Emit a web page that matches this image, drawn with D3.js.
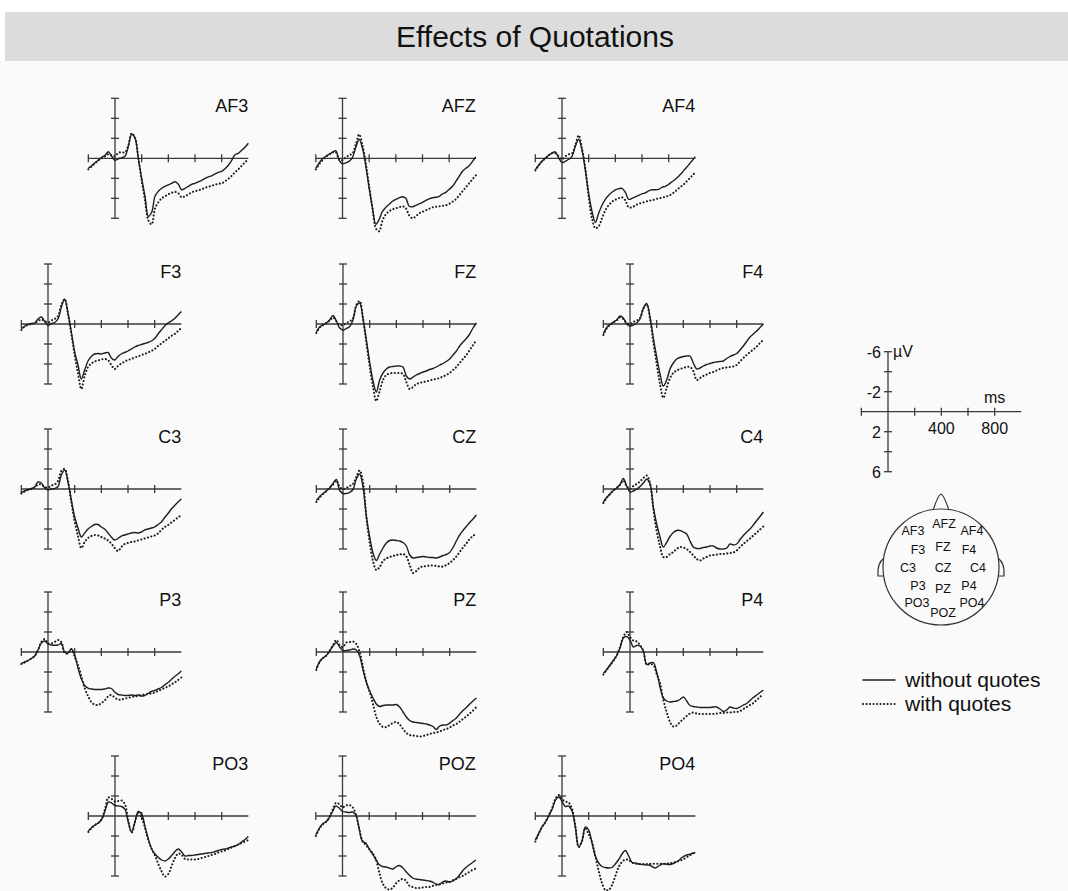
<!DOCTYPE html>
<html>
<head>
<meta charset="utf-8">
<script src="https://cdn.jsdelivr.net/npm/d3@7"></script>
<style>
  html, body { margin: 0; padding: 0; background: #ffffff; }
  svg { display: block; font-family: "Liberation Sans", Arial, Helvetica, sans-serif; }
</style>
</head>
<body>
<svg id="chart" width="1068" height="891"></svg>
<script>
// Sample times (ms) shared by every waveform
const times = d3.range(-200, 1001, 25);

// Grand-average amplitudes (µV) per electrode; negative is plotted upward
const AF3_without = [1.0,0.75,0.45,0.2,-0.1,-0.3,-0.65,-0.2,0.2,0.05,-0.05,-0.2,-1.2,-2.4,-2.0,0.0,2.0,3.8,5.8,5.4,3.8,3.3,3.0,2.8,2.65,2.5,2.35,2.6,3.15,3.0,2.8,2.6,2.5,2.35,2.2,2.0,1.85,1.75,1.55,1.4,1.3,1.05,0.7,0.2,-0.35,-0.5,-0.8,-1.1,-1.5];
const AF3_with = [1.1,0.8,0.5,0.2,0.0,-0.2,-0.4,-0.3,-0.2,-0.55,-0.6,-0.6,-1.3,-2.5,-2.1,0.0,2.2,4.2,6.2,6.6,5.0,4.4,4.0,3.8,3.6,3.45,3.35,3.5,3.9,3.8,3.6,3.4,3.3,3.2,3.1,2.95,2.85,2.75,2.65,2.55,2.5,2.3,2.05,1.75,1.4,1.1,0.75,0.4,0.1];

const AFZ_without = [1.0,0.45,0.05,-0.2,-0.4,-0.6,-0.75,0.2,0.55,0.45,0.3,-0.1,-1.1,-1.9,-1.0,0.8,3.0,5.0,6.6,6.1,5.3,4.9,4.6,4.3,4.1,3.95,3.85,4.0,4.8,4.85,4.7,4.55,4.4,4.2,4.05,3.95,3.9,3.8,3.55,3.4,3.1,2.8,2.3,1.8,1.3,1.0,0.75,0.3,-0.15];
const AFZ_with = [1.1,0.6,0.2,-0.15,-0.4,-0.6,-0.6,0.1,0.2,-0.1,-0.3,-0.5,-1.4,-2.4,-1.3,0.5,2.8,5.0,7.0,7.3,6.2,5.6,5.3,5.1,5.0,4.9,4.8,5.0,5.7,6.0,5.8,5.5,5.35,5.2,5.05,4.9,4.85,4.8,4.75,4.7,4.55,4.35,4.1,3.7,3.3,2.9,2.5,2.1,1.7];

const AF4_without = [1.15,0.7,0.3,0.0,-0.3,-0.5,-0.65,-0.05,0.43,0.3,0.1,-0.2,-1.2,-1.9,-0.8,1.2,3.5,5.3,6.4,5.5,4.7,4.1,3.7,3.4,3.15,3.05,3.0,3.4,4.1,4.0,3.85,3.7,3.55,3.45,3.25,3.15,3.15,3.1,2.9,2.8,2.6,2.35,2.1,1.8,1.45,1.05,0.65,0.25,-0.15];
const AF4_with = [1.2,0.7,0.3,0.0,-0.3,-0.55,-0.5,-0.2,0.1,-0.2,-0.4,-0.5,-1.3,-2.3,-1.0,1.0,3.8,6.0,7.0,6.8,6.0,5.2,4.7,4.35,4.15,4.0,3.9,4.2,4.9,4.9,4.7,4.55,4.45,4.35,4.25,4.2,4.1,4.0,3.95,3.85,3.75,3.55,3.3,3.0,2.75,2.45,2.1,1.75,1.4];

const F3_without = [0.5,0.2,0.05,-0.05,-0.1,-0.5,-0.7,-0.25,0.15,-0.05,-0.15,-0.5,-1.7,-2.5,-1.1,0.8,2.8,4.1,5.5,4.6,3.7,3.25,3.0,2.95,3.0,2.9,2.85,3.4,3.6,3.25,3.0,2.85,2.7,2.5,2.3,2.15,2.05,1.95,1.85,1.7,1.45,1.0,0.6,0.2,-0.1,-0.3,-0.55,-0.9,-1.25];
const F3_with = [0.6,0.25,0.1,0.0,-0.1,-0.3,-0.45,-0.3,-0.15,-0.35,-0.5,-0.8,-1.9,-2.5,-1.0,1.0,3.1,4.9,6.5,5.2,4.3,3.95,3.75,3.65,3.55,3.5,3.6,4.1,4.5,4.2,3.95,3.75,3.6,3.5,3.35,3.25,3.1,3.0,2.85,2.7,2.5,2.2,1.95,1.7,1.45,1.2,1.0,0.7,0.4];

const FZ_without = [0.8,0.3,0.1,-0.1,-0.4,-0.85,-0.3,0.4,0.6,0.45,0.25,-0.4,-1.8,-2.1,-0.5,1.6,3.8,5.7,6.8,5.6,4.9,4.5,4.3,4.25,4.2,4.2,4.3,5.2,5.5,5.3,5.1,4.95,4.8,4.7,4.55,4.45,4.3,4.1,3.95,3.75,3.5,3.1,2.7,2.2,1.8,1.45,1.0,0.4,-0.1];
const FZ_with = [0.9,0.35,0.1,-0.1,-0.35,-0.65,-0.3,0.1,0.1,-0.1,-0.25,-0.6,-1.9,-2.3,-0.6,1.8,4.2,6.3,7.7,6.7,5.6,5.1,4.95,4.9,4.9,4.9,5.0,5.8,6.5,6.3,6.0,5.9,5.8,5.75,5.65,5.55,5.5,5.4,5.25,5.1,4.9,4.6,4.3,3.9,3.5,3.1,2.6,2.1,1.6];

const F4_without = [1.0,0.35,0.05,-0.2,-0.4,-0.8,-0.6,0.0,0.2,0.1,-0.1,-0.5,-1.6,-2.05,-0.7,1.4,3.3,5.0,6.2,5.6,4.5,3.9,3.5,3.35,3.25,3.2,3.2,3.9,4.5,4.4,4.2,4.05,3.95,3.85,3.8,3.75,3.7,3.45,3.25,3.1,2.95,2.6,2.2,1.75,1.3,1.0,0.7,0.35,0.0];
const F4_with = [1.1,0.45,0.1,-0.15,-0.35,-0.65,-0.5,-0.1,0.0,-0.2,-0.35,-0.6,-1.5,-1.95,-0.5,1.8,4.0,6.0,7.4,6.4,5.4,4.9,4.65,4.5,4.4,4.3,4.3,4.7,5.6,5.4,5.2,5.05,4.9,4.8,4.65,4.5,4.4,4.35,4.3,4.25,4.1,3.75,3.4,3.1,2.8,2.55,2.25,1.9,1.6];

const C3_without = [0.35,0.2,0.05,-0.05,-0.2,-0.7,-0.6,-0.1,0.1,0.0,-0.05,-0.25,-1.4,-1.9,-0.7,1.1,2.8,3.9,4.8,4.4,4.0,3.75,3.55,3.55,3.8,4.0,4.4,4.8,5.1,4.95,4.7,4.6,4.5,4.4,4.35,4.4,4.3,4.1,4.0,3.9,3.8,3.55,3.3,2.85,2.45,2.0,1.65,1.3,1.0];
const C3_with = [0.45,0.25,0.1,0.0,-0.15,-0.45,-0.45,-0.2,-0.15,-0.35,-0.45,-0.8,-1.8,-2.0,-0.8,1.3,3.2,4.7,5.9,5.3,4.9,4.7,4.6,4.65,4.8,4.95,5.15,5.45,5.9,6.2,5.8,5.5,5.4,5.3,5.25,5.15,5.05,4.95,4.85,4.75,4.65,4.45,4.1,3.8,3.6,3.35,3.1,2.85,2.6];

const CZ_without = [1.15,0.75,0.45,0.2,-0.1,-0.55,-0.95,0.15,0.45,0.45,0.35,0.05,-1.0,-1.5,-0.2,2.7,4.8,6.4,7.15,6.5,5.9,5.4,5.15,5.1,5.15,5.2,5.35,5.7,6.6,6.9,6.85,6.8,6.75,6.8,6.85,6.85,6.9,6.8,6.65,6.55,6.35,5.85,5.2,4.6,4.15,3.75,3.35,3.0,2.6];
const CZ_with = [1.3,0.85,0.5,0.2,-0.15,-0.45,-0.85,-0.2,0.0,-0.1,-0.3,-0.5,-1.2,-1.85,-0.7,2.8,5.3,7.2,8.1,7.8,7.2,6.95,6.8,6.7,6.6,6.55,6.5,6.75,7.6,8.4,8.2,7.85,7.75,7.7,7.65,7.65,7.7,7.75,7.75,7.6,7.4,7.1,6.75,6.3,5.85,5.45,5.0,4.7,4.4];

const C4_without = [1.3,0.85,0.5,0.15,-0.1,-0.45,-1.05,-0.3,0.3,0.2,0.0,-0.25,-0.6,-1.0,-0.5,1.8,3.5,4.8,5.8,5.35,4.75,4.35,4.15,4.15,4.3,4.5,5.2,5.8,5.95,5.95,5.85,5.8,5.7,5.7,5.9,6.0,6.0,5.9,5.5,5.6,5.5,5.05,4.65,4.3,4.0,3.6,3.15,2.75,2.3];
const C4_with = [1.4,0.9,0.5,0.15,-0.1,-0.4,-0.85,-0.3,0.0,-0.3,-0.5,-0.75,-1.1,-1.35,-0.6,2.0,4.2,5.7,6.8,6.8,6.5,6.3,6.0,5.8,5.85,6.0,6.3,6.65,7.0,7.15,6.95,6.8,6.65,6.6,6.55,6.5,6.5,6.45,6.4,6.35,6.15,5.8,5.5,5.2,4.95,4.65,4.35,4.05,3.75];

const P3_without = [1.15,1.0,0.85,0.65,0.4,-0.2,-0.9,-1.1,-0.8,-0.7,-0.68,-0.7,-0.85,0.0,0.1,-0.3,0.3,1.6,2.7,3.35,3.6,3.7,3.75,3.75,3.75,3.7,3.6,3.65,4.0,4.25,4.3,4.35,4.35,4.3,4.35,4.3,4.4,4.35,4.15,3.95,3.85,3.7,3.55,3.3,3.05,2.75,2.45,2.2,1.9];
const P3_with = [1.2,1.05,0.85,0.65,0.4,-0.2,-1.0,-1.3,-0.85,-0.85,-1.0,-1.2,-1.0,0.1,0.15,-0.3,0.5,1.3,2.4,3.6,4.4,5.0,5.25,5.3,5.1,4.85,4.45,4.3,4.55,4.75,4.75,4.65,4.6,4.5,4.45,4.4,4.3,4.25,4.2,4.15,4.05,3.9,3.75,3.6,3.45,3.25,3.05,2.8,2.55];

const PZ_without = [1.7,0.95,0.6,0.35,-0.1,-0.6,-0.95,-0.5,-0.15,-0.15,-0.2,-0.3,-0.2,0.4,1.8,3.0,3.9,4.6,5.2,5.45,5.35,5.3,5.3,5.3,5.25,5.5,6.0,6.5,6.85,7.0,7.05,7.1,7.15,7.2,7.3,7.45,7.75,7.4,7.3,7.3,7.1,6.85,6.6,6.2,5.85,5.55,5.2,4.9,4.6];
const PZ_with = [1.8,1.0,0.6,0.35,-0.15,-0.7,-1.2,-0.7,-0.5,-0.95,-1.0,-1.05,-0.8,0.0,1.5,3.0,4.0,5.2,6.5,7.2,7.5,7.5,7.3,7.1,7.0,7.25,7.7,8.1,8.3,8.35,8.4,8.45,8.4,8.3,8.2,8.1,8.05,7.95,7.8,7.7,7.55,7.35,7.2,6.95,6.7,6.45,6.15,5.85,5.5];

const P4_without = [2.15,1.75,1.3,0.85,0.35,-0.4,-1.4,-1.55,-1.2,-0.5,-0.65,-0.6,-0.1,1.25,1.1,1.05,2.0,3.5,4.6,4.9,5.0,4.95,4.9,4.75,4.5,4.9,5.35,5.45,5.5,5.55,5.55,5.55,5.55,5.5,5.5,5.7,5.95,5.8,5.5,5.6,5.65,5.5,5.3,5.15,4.85,4.55,4.3,4.05,3.8];
const P4_with = [2.25,1.8,1.35,0.9,0.35,-0.5,-1.5,-2.0,-1.5,-1.15,-1.05,-0.7,-0.1,1.25,1.2,1.3,2.2,3.1,4.8,6.0,7.0,7.45,7.35,7.0,6.7,6.4,6.15,6.05,6.15,6.2,6.2,6.2,6.2,6.2,6.15,6.1,6.1,6.05,6.05,6.0,6.0,5.9,5.7,5.5,5.3,5.1,4.8,4.5,4.2];

const PO3_without = [1.5,1.15,0.9,0.7,0.35,-0.5,-1.4,-1.3,-1.05,-1.0,-0.95,-0.65,0.65,1.65,0.55,-0.45,-0.2,1.05,2.3,3.3,3.8,4.15,4.4,4.5,4.3,3.95,3.55,3.3,3.6,4.0,3.95,3.95,3.9,3.85,3.8,3.75,3.7,3.65,3.55,3.45,3.35,3.3,3.2,3.1,3.0,2.85,2.6,2.35,2.05];
const PO3_with = [1.6,1.2,0.9,0.7,0.3,-0.7,-1.85,-1.7,-1.45,-1.5,-1.55,-1.15,0.5,1.65,0.6,-0.35,0.2,1.2,2.4,3.3,3.95,4.8,5.55,6.05,5.8,5.0,4.2,3.75,3.9,4.3,4.35,4.35,4.35,4.3,4.2,4.1,4.0,3.9,3.8,3.65,3.55,3.45,3.3,3.15,3.0,2.85,2.7,2.55,2.4];

const POZ_without = [1.9,1.25,0.8,0.6,0.2,-0.45,-1.0,-0.8,-0.45,-0.4,-0.35,-0.4,-0.1,1.3,2.55,2.7,3.3,3.8,4.35,4.85,5.05,5.1,5.2,5.3,5.1,4.95,5.15,5.55,5.9,6.2,6.3,6.35,6.4,6.45,6.5,6.6,6.8,6.85,6.6,6.5,6.6,6.5,6.3,5.95,5.5,5.15,4.9,4.65,4.4];
const POZ_with = [2.0,1.3,0.85,0.6,0.15,-0.6,-1.3,-1.2,-0.85,-1.05,-1.1,-0.9,-0.2,1.2,2.5,2.9,3.3,3.7,4.3,5.6,6.7,7.2,7.35,7.2,6.75,6.45,6.3,6.45,6.95,7.1,7.2,7.2,7.15,7.1,7.1,7.0,6.9,6.85,6.75,6.65,6.6,6.45,6.3,6.15,6.0,5.8,5.6,5.4,5.25];

const PO4_without = [2.4,1.75,1.1,0.65,0.0,-0.65,-1.55,-1.9,-1.45,-0.95,-1.0,-0.5,1.1,3.1,2.5,1.1,1.4,2.7,4.0,4.7,5.05,5.15,5.2,5.15,4.8,4.35,3.8,3.45,4.0,4.65,4.7,4.8,4.85,4.9,4.9,5.05,5.2,5.0,4.8,4.8,4.85,4.8,4.65,4.45,4.15,3.95,3.85,3.75,3.65];
const PO4_with = [2.55,1.8,1.1,0.6,-0.05,-0.75,-1.7,-2.1,-1.7,-1.45,-1.35,-0.7,1.0,3.1,2.5,1.2,1.8,2.6,4.0,5.5,6.7,7.4,7.4,6.9,6.0,5.1,4.6,4.35,4.4,4.65,4.75,4.8,4.8,4.8,4.8,4.78,4.77,4.77,4.77,4.77,4.75,4.7,4.6,4.5,4.4,4.2,4.0,3.8,3.6];

// Electrode names in montage order, and their two conditions
const channels = ["AF3","AFZ","AF4","F3","FZ","F4","C3","CZ","C4","P3","PZ","P4","PO3","POZ","PO4"];
const withoutQuotes = [AF3_without, AFZ_without, AF4_without, F3_without, FZ_without, F4_without, C3_without, CZ_without, C4_without, P3_without, PZ_without, P4_without, PO3_without, POZ_without, PO4_without];
const withQuotes = [AF3_with, AFZ_with, AF4_with, F3_with, FZ_with, F4_with, C3_with, CZ_with, C4_with, P3_with, PZ_with, P4_with, PO3_with, POZ_with, PO4_with];

// Axis ticks
const voltTicks = [-6, -4, -2, 2, 4, 6];
const timeTicks = [-200, 200, 400, 600, 800];
const voltLabels = [-6, -2, 2, 6];
const timeLabels = [400, 800];
const seriesNames = ["without quotes", "with quotes"];

// ---- Layout ----
const W = 1068, H = 891;
const svg = d3.select("#chart");
const ink = "#1e1e1e";
const axisInk = "#3a3a3a";

svg.append("rect").attr("x", 0).attr("y", 0).attr("width", W).attr("height", H).attr("fill", "#ffffff");
svg.append("rect").attr("x", 0).attr("y", 61).attr("width", W).attr("height", H - 61).attr("fill", "#fafafa");
svg.append("rect").attr("x", 5).attr("y", 12).attr("width", W - 5).attr("height", 49).attr("fill", "#dcdcdc");
svg.append("text").attr("x", 535).attr("y", 47).attr("text-anchor", "middle")
  .attr("font-size", 30).attr("fill", "#111").text("Effects of Quotations");

// Origins (0 ms, 0 µV) for each electrode panel
const rowY = [158.3, 324, 489, 652, 816];
const colsNarrow = [115, 342.5, 562];
const colsWide = [48, 343, 630];
const origins = channels.map((c, i) => {
  const r = Math.floor(i / 3), k = i % 3;
  const cols = (r === 0 || r === 4) ? colsNarrow : colsWide;
  return [cols[k], rowY[r]];
});

const PX_PER_MS = 26.67 / 200;
const PX_PER_UV = 10;

function makeScales(ox, oy) {
  const x = d3.scaleLinear().domain([-200, 1000]).range([ox - 200 * PX_PER_MS, ox + 1000 * PX_PER_MS]);
  const y = d3.scaleLinear().domain([-6, 6]).range([oy - 6 * PX_PER_UV, oy + 6 * PX_PER_UV]);
  return { x, y };
}

function drawAxes(g, x, y) {
  const ax = g.append("g").attr("stroke", axisInk).attr("stroke-width", 1.3).attr("fill", "none");
  // time axis
  ax.append("line").attr("x1", x(-200)).attr("x2", x(1000)).attr("y1", y(0)).attr("y2", y(0));
  ax.selectAll(".tt").data(timeTicks).enter().append("line")
    .attr("x1", d => x(d)).attr("x2", d => x(d)).attr("y1", y(0) - 4).attr("y2", y(0) + 4);
  // voltage axis
  ax.append("line").attr("x1", x(0)).attr("x2", x(0)).attr("y1", y(-6)).attr("y2", y(6));
  ax.selectAll(".vt").data(voltTicks).enter().append("line")
    .attr("x1", x(0) - 4).attr("x2", x(0) + 4).attr("y1", d => y(d)).attr("y2", d => y(d));
}

channels.forEach((name, i) => {
  const [ox, oy] = origins[i];
  const { x, y } = makeScales(ox, oy);
  const g = svg.append("g");
  drawAxes(g, x, y);
  const line = d3.line().x((d, j) => x(times[j])).y(d => y(d)).curve(d3.curveCatmullRom.alpha(0.5));
  g.append("path").attr("d", line(withQuotes[i])).attr("fill", "none")
    .attr("stroke", ink).attr("stroke-width", 2.1).attr("stroke-linecap", "round")
    .attr("stroke-dasharray", "0.1,3.4");
  g.append("path").attr("d", line(withoutQuotes[i])).attr("fill", "none")
    .attr("stroke", ink).attr("stroke-width", 1.4).attr("stroke-linejoin", "round");
  g.append("text").attr("x", x(1000)).attr("y", y(-6) + 14).attr("text-anchor", "end")
    .attr("font-size", 18).attr("fill", "#111").text(name);
});

// ---- Calibration axes ----
{
  const { x, y } = makeScales(888, 411.7);
  const g = svg.append("g");
  drawAxes(g, x, y);
  const t = g.append("g").attr("font-size", 16).attr("fill", "#111");
  t.selectAll(".vl").data(voltLabels).enter().append("text")
    .attr("x", x(0) - 7).attr("y", d => y(d) + 6).attr("text-anchor", "end").text(d => d);
  t.append("text").attr("x", x(0) + 5).attr("y", y(-6) + 5).text("µV");
  t.selectAll(".tl").data(timeLabels).enter().append("text")
    .attr("x", d => x(d)).attr("y", y(0) + 22).attr("text-anchor", "middle").text(d => d);
  t.append("text").attr("x", x(800)).attr("y", y(0) - 9).attr("text-anchor", "middle").text("ms");
}

// ---- Head map ----
{
  const cx = 941, cy = 567, r = 58;
  const g = svg.append("g").attr("fill", "none").attr("stroke", "#333").attr("stroke-width", 1.2);
  g.append("path").attr("d", `M${cx - 8},${cy - r + 1.5} Q${cx - 3},${cy - r - 14} ${cx},${cy - r - 15} Q${cx + 3},${cy - r - 14} ${cx + 8},${cy - r + 1.5}`).attr("fill", "#fafafa");
  g.append("path").attr("d", `M${cx - r + 1},${cy - 9} Q${cx - r - 6},${cy - 4} ${cx - r - 5},${cy + 9} L${cx - r + 0.5},${cy + 9}`);
  g.append("path").attr("d", `M${cx + r - 1},${cy - 9} Q${cx + r + 6},${cy - 4} ${cx + r + 5},${cy + 9} L${cx + r - 0.5},${cy + 9}`);
  g.append("circle").attr("cx", cx).attr("cy", cy).attr("r", r).attr("fill", "#fafafa");

  const sites = [
    ["AF3", -28, -37], ["AFZ", 3, -44], ["AF4", 31, -37],
    ["F3", -23, -18], ["FZ", 2, -21], ["F4", 28, -18],
    ["C3", -33, 0], ["CZ", 2, 0], ["C4", 37, 0],
    ["P3", -23, 18], ["PZ", 2, 21], ["P4", 28, 18],
    ["PO3", -24, 35], ["POZ", 2, 45], ["PO4", 31, 35]
  ];
  svg.append("g").attr("font-size", 12.5).attr("fill", "#111").attr("text-anchor", "middle")
    .selectAll("text").data(sites).enter().append("text")
    .attr("x", d => cx + d[1]).attr("y", d => cy + d[2] + 4.5).text(d => d[0]);
}

// ---- Legend ----
{
  const g = svg.append("g");
  const rows = [{ y: 680, dash: null, w: 1.4 }, { y: 704, dash: "0.1,3.4", w: 2.1 }];
  rows.forEach((rw, i) => {
    const l = g.append("line").attr("x1", 863).attr("x2", 895).attr("y1", rw.y).attr("y2", rw.y)
      .attr("stroke", ink).attr("stroke-width", rw.w).attr("stroke-linecap", "round");
    if (rw.dash) l.attr("stroke-dasharray", rw.dash);
    g.append("text").attr("x", 905).attr("y", rw.y + 7).attr("font-size", 21).attr("fill", "#111")
      .text(seriesNames[i]);
  });
}
</script>
</body>
</html>
